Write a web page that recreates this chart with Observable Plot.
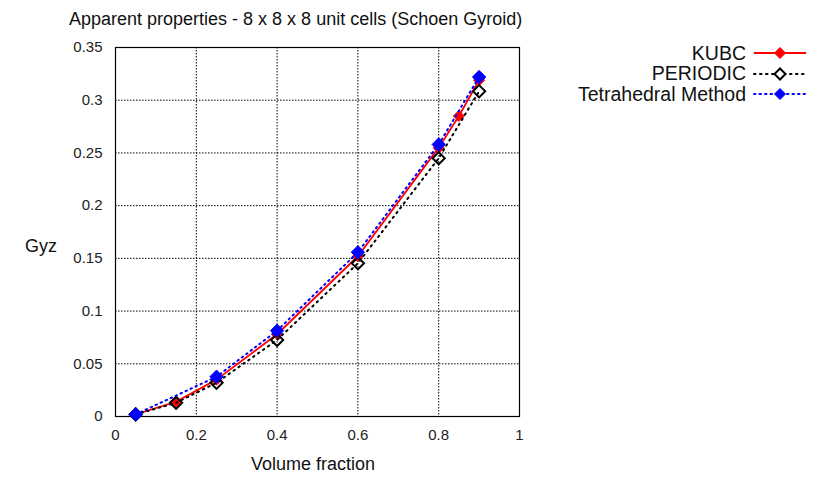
<!DOCTYPE html>
<html>
<head>
<meta charset="utf-8">
<script src="https://cdn.jsdelivr.net/npm/d3@7"></script>
<script src="https://cdn.jsdelivr.net/npm/@observablehq/plot@0.6"></script>
<style>
  body { margin: 0; background: #fff; font-family: "Liberation Sans", Arial, sans-serif; }
  #wrap { position: relative; width: 820px; height: 477px; }
  #chart svg text { font-size: 15px !important; font-family: "Liberation Sans", Arial, sans-serif !important; fill: #222; }
  #title { position: absolute; left: 69px; top: 8px; font-size: 18px; line-height: 22px; color: #111; white-space: nowrap; }
  #ylab { position: absolute; left: 25px; top: 235px; font-size: 18px; line-height: 22px; color: #111; }
  #xlab { position: absolute; left: 251px; top: 453px; font-size: 18px; line-height: 22px; color: #111; white-space: nowrap; }
  #legend { position: absolute; right: 12px; top: 43px; font-size: 19.5px; color: #111; }
  .row { display: flex; align-items: center; justify-content: flex-end; height: 20.5px; }
  .row svg { margin-left: 6px; }
</style>
</head>
<body>
<div id="wrap">
  <div id="chart"></div>
  <div id="title">Apparent properties - 8 x 8 x 8 unit cells (Schoen Gyroid)</div>
  <div id="ylab">Gyz</div>
  <div id="xlab">Volume fraction</div>
  <div id="legend"></div>
</div>
<script>
const kubcX = [0.05, 0.15, 0.25, 0.4, 0.6, 0.8, 0.85, 0.9];
const kubcY = [0.002, 0.014, 0.035, 0.078, 0.152, 0.255, 0.285, 0.319];
const periodicX = [0.05, 0.15, 0.25, 0.4, 0.6, 0.8, 0.9];
const periodicY = [0.002, 0.013, 0.032, 0.0726, 0.1453, 0.245, 0.3085];
const tetraX = [0.05, 0.25, 0.4, 0.6, 0.8, 0.9];
const tetraY = [0.002, 0.0377, 0.0814, 0.1558, 0.258, 0.322];
const xTicks = [0, 0.2, 0.4, 0.6, 0.8, 1];
const yTicks = [0, 0.05, 0.1, 0.15, 0.2, 0.25, 0.3, 0.35];
const seriesNames = ["KUBC", "PERIODIC", "Tetrahedral Method"];

const kubc = kubcX.map((x, i) => ({x, y: kubcY[i]}));
const periodic = periodicX.map((x, i) => ({x, y: periodicY[i]}));
const tetra = tetraX.map((x, i) => ({x, y: tetraY[i]}));
const fmt = d => String(d);

const chart = Plot.plot({
  width: 820,
  height: 477,
  marginLeft: 115,
  marginRight: 301,
  marginTop: 47,
  marginBottom: 61,
  style: {fontFamily: "Liberation Sans, Arial, sans-serif", fontSize: "15px", color: "#222"},
  x: {domain: [0, 1]},
  y: {domain: [0, 0.35]},
  marks: [
    Plot.gridX(xTicks.slice(1, -1), {stroke: "#000", strokeOpacity: 1, strokeDasharray: "1.5,1.5", strokeWidth: 1}),
    Plot.gridY(yTicks.slice(1, -1), {stroke: "#000", strokeOpacity: 1, strokeDasharray: "1.5,1.5", strokeWidth: 1}),
    Plot.axisX(xTicks, {tickSize: 0, tickPadding: 13, tickFormat: fmt, label: null}),
    Plot.axisY(yTicks, {tickSize: 0, tickPadding: 13, tickFormat: fmt, label: null}),
    Plot.frame({stroke: "#000", strokeWidth: 1.2}),
    Plot.line(kubc, {x: "x", y: "y", stroke: "#ff0000", strokeWidth: 1.8}),
    Plot.dot(kubc, {x: "x", y: "y", symbol: "diamond2", r: 5, fill: "#ff0000", stroke: "#ff0000", strokeWidth: 1}),
    Plot.line(periodic, {x: "x", y: "y", stroke: "#000", strokeWidth: 2, strokeDasharray: "1.5,4.5", strokeLinecap: "round"}),
    Plot.dot(periodic, {x: "x", y: "y", symbol: "diamond2", r: 5.5, fill: "none", stroke: "#000", strokeWidth: 2}),
    Plot.line(tetra, {x: "x", y: "y", stroke: "#0000ff", strokeWidth: 2, strokeDasharray: "1.5,4", strokeLinecap: "round"}),
    Plot.dot(tetra, {x: "x", y: "y", symbol: "diamond2", r: 6, fill: "#0000ff", stroke: "#0000ff", strokeWidth: 1})
  ]
});
document.getElementById("chart").appendChild(chart);

const styles = [
  {stroke: "#ff0000", dash: null, fill: "#ff0000"},
  {stroke: "#000", dash: "1.5,4.5", fill: "none"},
  {stroke: "#0000ff", dash: "1.5,4", fill: "#0000ff"}
];
const legend = document.getElementById("legend");
seriesNames.forEach((name, i) => {
  const s = styles[i];
  const row = document.createElement("div");
  row.className = "row";
  row.innerHTML = `<span>${name}</span><svg width="56" height="14">
    <line x1="2" y1="7" x2="54" y2="7" stroke="${s.stroke}" stroke-width="${i === 0 ? 1.8 : 2}" ${s.dash ? `stroke-dasharray="${s.dash}" stroke-linecap="round"` : ""}/>
    <path d="M28,1.5 L33.5,7 L28,12.5 L22.5,7 Z" fill="${s.fill === "none" ? "#fff" : s.fill}" stroke="${s.stroke}" stroke-width="${i === 1 ? 2 : 1}"/>
  </svg>`;
  legend.appendChild(row);
});
</script>
</body>
</html>
